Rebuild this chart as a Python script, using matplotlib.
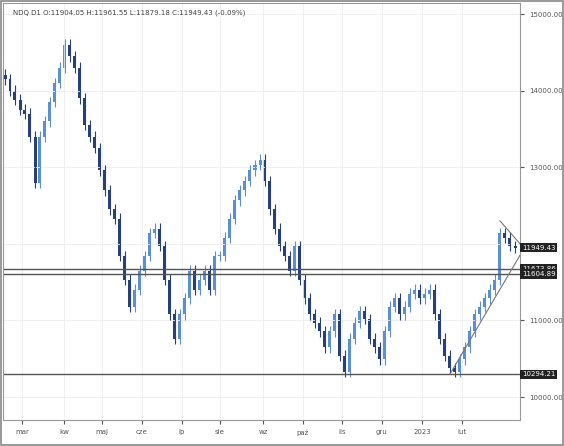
import numpy as np
import matplotlib
matplotlib.use('Agg')
from matplotlib import pyplot as plt
from matplotlib.patches import Rectangle

# closing prices, roughly one bar every ~2.5 sessions, Feb 2022 - Feb 2023
closes = [14150, 14000, 13880, 13750, 13700, 13400, 12800, 13400, 13600, 13850,
          14100, 14300, 14600, 14450, 14300, 13900, 13550, 13400, 13250, 12960,
          12700, 12450, 12330, 11840, 11530, 11180, 11400, 11650, 11840, 12140,
          12200, 11970, 11530, 11080, 10760, 11080, 11290, 11650, 11400, 11530,
          11650, 11400, 11840, 11840, 12080, 12330, 12570, 12700, 12820, 12960,
          13030, 13100, 12820, 12450, 12200, 11970, 11840, 11650, 11970, 11530,
          11290, 11080, 10970, 10860, 10650, 10860, 11080, 10540, 10330, 10760,
          10970, 11120, 11020, 10760, 10650, 10490, 10860, 11180, 11290, 11080,
          11180, 11350, 11400, 11290, 11350, 11400, 11080, 10760, 10540, 10380,
          10330, 10490, 10650, 10860, 11080, 11180, 11290, 11400, 11530, 12140,
          12080, 11970, 11949]
month_labels = ['mar', 'kw', 'maj', 'cze', 'lp', 'sie', 'wz', 'paź', 'lis', 'gru', '2023', 'lut']
month_pos = [3.4, 11.8, 19.4, 27.4, 35.4, 43.0, 51.6, 59.6, 67.4, 75.4, 83.4, 91.4]
levels = [11673.86, 11604.89, 10294.21]
last_price = 11949.43
header = "NDQ D1 O:11904.05 H:11961.55 L:11879.18 C:11949.43 (-0.09%)"

opens = [closes[0] + 60] + closes[:-1]
x = np.arange(len(closes))

fig = plt.figure(figsize=(5.64, 4.46), dpi=100)
ax = fig.add_axes([3/564, 26/446, 517/564, 417/446])
ax.set_xlim(-0.4, 103)
ax.set_ylim(9700, 15144)

for i in x:
    o, c = opens[i], closes[i]
    col = '#5b8fd0' if c >= o else '#27407a'
    ax.vlines(i, min(o, c) - 70, max(o, c) + 70, color=col, lw=0.8)
    ax.add_patch(Rectangle((i - 0.3, min(o, c)), 0.6, max(abs(c - o), 15), color=col, lw=0))

for lv in levels:
    ax.axhline(lv, color='#555555', lw=1)
# triangle lines
ax.plot([89, 103], [10300, 11850], color='#777777', lw=0.8)
ax.plot([99, 103], [12300, 12000], color='#777777', lw=0.8)

ax.yaxis.tick_right()
ax.set_yticks([10000, 11000, 12000, 13000, 14000, 15000])
ax.set_yticklabels(['10000.00', '11000.00', '', '13000.00', '14000.00', '15000.00'])
ax.set_xticks(month_pos)
ax.set_xticklabels(month_labels)
ax.tick_params(labelsize=5, colors='#555555', length=3)
ax.grid(color='#eeeeee', lw=0.6)
for s in ax.spines.values():
    s.set_color('#999999')

for val in [last_price] + levels:
    ax.text(103.4, val, f'{val:.2f}', fontsize=5, color='white', va='center', ha='left',
            bbox=dict(boxstyle='square,pad=0.25', fc='#222222', ec='none'))

ax.text(0.02, 0.985, header, transform=ax.transAxes, fontsize=5, color='#444444', va='top')

fig.patches.append(Rectangle((0.002, 0.002), 0.996, 0.996, transform=fig.transFigure,
                             fill=False, ec='#888888', lw=1.2))
fig.savefig('out.png', dpi=100)
